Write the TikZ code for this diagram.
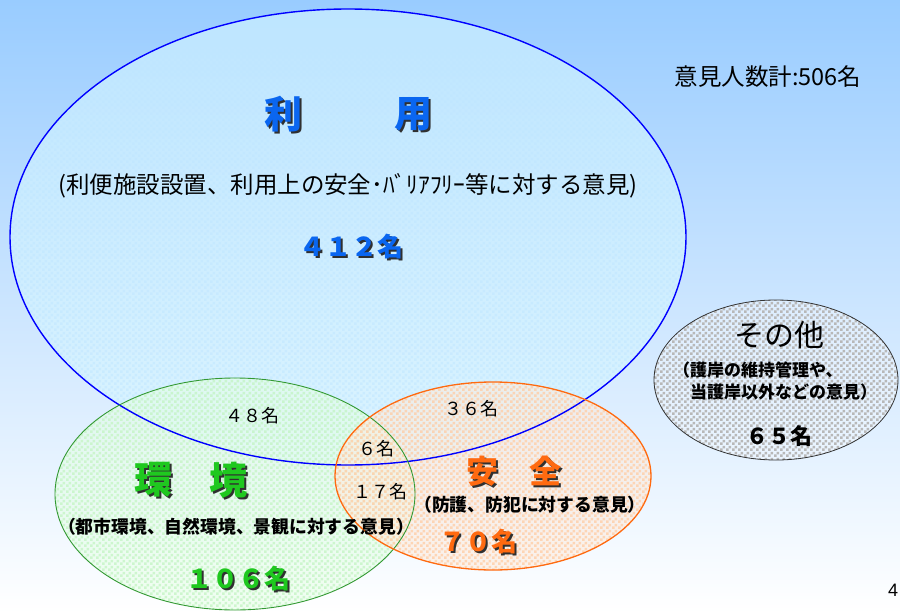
\documentclass[tikz,border=0pt]{standalone}
\usepackage{fontspec}
\setmainfont{Noto Sans CJK JP}
\newfontfamily\latinfont{Liberation Sans}
\usetikzlibrary{patterns.meta}
\definecolor{bgtop}{HTML}{99CCFF}
\definecolor{bluefill}{HTML}{D5F6FF}
\definecolor{bluechk}{HTML}{BFE6FF}
\definecolor{greenfill}{HTML}{E6FFE6}
\definecolor{greenchk}{HTML}{C6F5C6}
\definecolor{orangefill}{HTML}{FFEBDC}
\definecolor{orangechk}{HTML}{FFCFA8}
\definecolor{graychk}{HTML}{B8B8B8}
\definecolor{bluetxt}{HTML}{0A66F0}
\definecolor{greentxt}{HTML}{1FC81F}
\definecolor{orangetxt}{HTML}{FF6A10}
\definecolor{shadowc}{HTML}{303030}
\tikzdeclarepattern{
  name=chk,
  type=uncolored,
  bounding box={(0pt,0pt) and (6pt,6pt)},
  tile size={(6pt,6pt)},
  code={\fill (0pt,0pt) rectangle (3pt,3pt); \fill (3pt,3pt) rectangle (6pt,6pt);}
}
\newcommand\fsz[1]{\fontsize{#1}{#1}\selectfont}
\newcommand\shtext[6]{%
  \node[txt, text=#5, font=\fsz{#4}\bfseries] (#1) at (#2,#3)
    {\rlap{\hspace*{2pt}\raisebox{-2pt}{\textcolor{shadowc}{#6}}}#6};}
\begin{document}
\begin{tikzpicture}[x=1pt,y=-1pt,
  txt/.style={inner sep=0pt, outer sep=0pt, anchor=center, text=black},
  cnt/.style={txt, font=\fsz{18}}]
\useasboundingbox (0,0) rectangle (900,613);
\shade[top color=bgtop, bottom color=white] (0,0) rectangle (900,613);
% fills
\path[fill=bluefill, fill opacity=0.6] (348,237) ellipse [x radius=338pt, y radius=228pt];
\path[pattern={chk}, pattern color=bluechk, fill opacity=0.5] (348,237) ellipse [x radius=338pt, y radius=228pt];
\path[fill=greenfill, fill opacity=0.55] (235,494) ellipse [x radius=180pt, y radius=116pt];
\path[pattern={chk}, pattern color=greenchk, fill opacity=0.8] (235,494) ellipse [x radius=180pt, y radius=116pt];
\path[fill=orangefill, fill opacity=0.55] (493,476) ellipse [x radius=158pt, y radius=94pt];
\path[pattern={chk}, pattern color=orangechk, fill opacity=0.8] (493,476) ellipse [x radius=158pt, y radius=94pt];
\path[fill=white!85!bgtop, fill opacity=0.5] (776,380) ellipse [x radius=122pt, y radius=80pt];
\path[pattern={chk}, pattern color=graychk] (776,380) ellipse [x radius=122pt, y radius=80pt];
% outlines
\draw[blue, line width=1.4pt] (348,237) ellipse [x radius=338pt, y radius=228pt];
\draw[green!50!black!80, line width=0.9pt] (235,494) ellipse [x radius=180pt, y radius=116pt];
\draw[orangetxt, line width=1.3pt] (493,476) ellipse [x radius=158pt, y radius=94pt];
\draw[black!80, line width=0.8pt] (776,380) ellipse [x radius=122pt, y radius=80pt];
% texts
\node[txt, font=\fsz{23.5}] (total) at (768,77) {意見人数計:506名};
\shtext{ri}{283}{115}{38}{bluetxt}{利}
\shtext{yo}{413}{115}{38}{bluetxt}{用}
\node[txt, font=\fsz{23.5}] (ridesc) at (348,186) {(利便施設設置、利用上の安全･ﾊﾞﾘｱﾌﾘｰ等に対する意見)};
\shtext{rinum}{351}{248}{26}{bluetxt}{４１２名}
\node[cnt] (n48) at (252,416) {４８名};
\node[cnt] (n36) at (471,409) {３６名};
\node[cnt] (n6) at (376,449) {６名};
\node[cnt] (n17) at (380,492) {１７名};
\shtext{ka}{153}{481}{38}{greentxt}{環}
\shtext{kyo}{228}{481}{38}{greentxt}{境}
\node[txt, font=\fsz{17.8}\bfseries] (kadesc) at (236,527) {（都市環境、自然環境、景観に対する意見）};
\shtext{kanum}{238}{580}{26}{greentxt}{１０６名}
\shtext{an}{482}{472}{32}{orangetxt}{安}
\shtext{zen}{545}{472}{32}{orangetxt}{全}
\node[txt, font=\fsz{17.8}\bfseries] (andesc) at (530,505) {（防護、防犯に対する意見）};
\shtext{annum}{478}{543}{26}{orangetxt}{７０名}
\node[txt, font=\fsz{30}] (sono) at (779,335) {その他};
\node[txt, font=\fsz{17}\bfseries, anchor=west] (sodesc1) at (673,370) {（護岸の維持管理や、};
\node[txt, font=\fsz{17}\bfseries, anchor=west] (sodesc2) at (673,392) {　当護岸以外などの意見）};
\node[txt, font=\fsz{22}\bfseries] (sonum) at (779,436) {６５名};
\node[txt, font=\latinfont\fsz{18}] (page) at (893,590) {4};
\end{tikzpicture}
\end{document}
